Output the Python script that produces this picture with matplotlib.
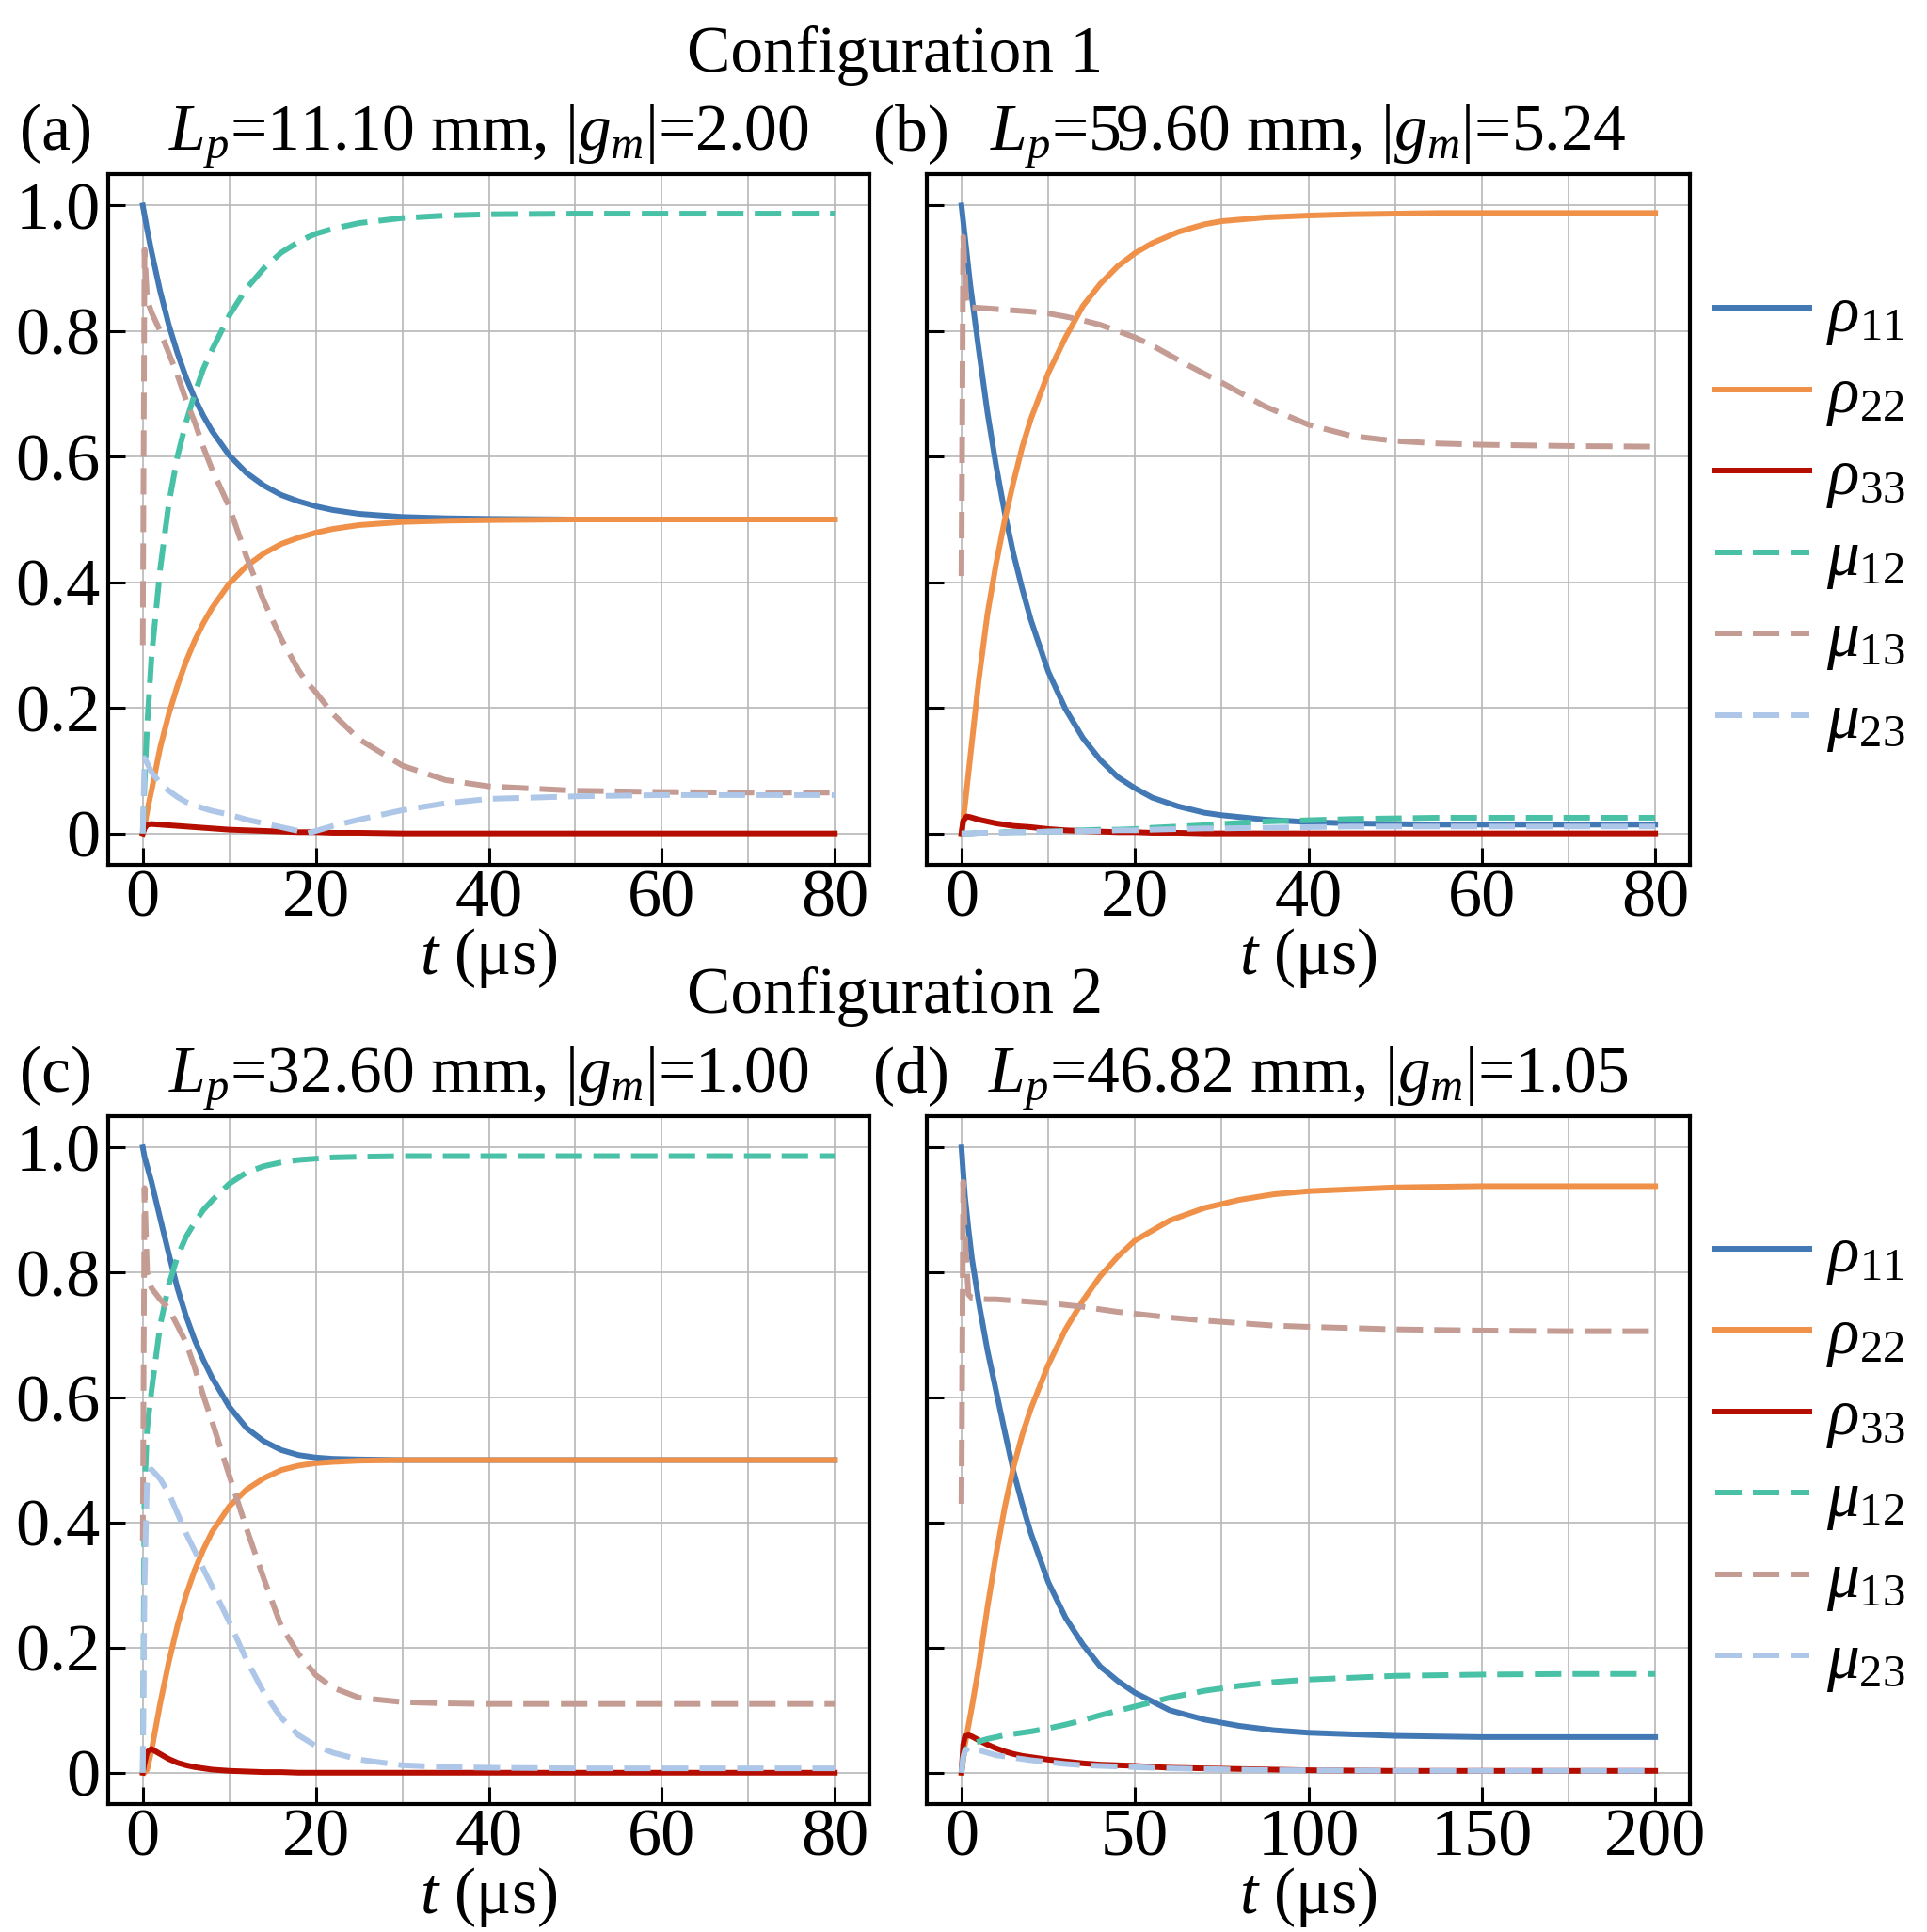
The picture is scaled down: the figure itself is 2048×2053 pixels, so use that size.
import numpy as np
import matplotlib
matplotlib.use("Agg")
import matplotlib.pyplot as plt
from matplotlib.ticker import MultipleLocator, FuncFormatter

plt.rcParams['font.family'] = ['Liberation Serif', 'DejaVu Serif']
plt.rcParams['mathtext.fontset'] = 'custom'
plt.rcParams['mathtext.rm'] = 'Liberation Serif'
plt.rcParams['mathtext.it'] = 'Liberation Serif:italic'
plt.rcParams['mathtext.bf'] = 'Liberation Serif:bold'

# -----------------------
# data
# -----------------------
# panel (a): Lp=11.10 mm
t_a = [0, 0.2, 0.5, 1, 2, 3, 4, 5, 6, 7, 8, 10, 12, 14, 16, 18, 19, 20, 22, 25, 30, 35, 40, 50, 60, 70, 80]
rho11_a = [1.0, 0.985, 0.962, 0.927, 0.864, 0.81, 0.765, 0.726, 0.693, 0.665, 0.641, 0.602, 0.574, 0.554,
           0.539, 0.529, 0.525, 0.521, 0.515, 0.509, 0.504, 0.502, 0.501, 0.5, 0.5, 0.5, 0.5]
rho22_a = [0, 0.01, 0.035, 0.068, 0.136, 0.19, 0.235, 0.274, 0.307, 0.335, 0.359, 0.398, 0.426, 0.446,
           0.461, 0.471, 0.475, 0.479, 0.485, 0.491, 0.496, 0.498, 0.499, 0.5, 0.5, 0.5, 0.5]
rho33_a = [0, 0.008, 0.014, 0.015, 0.014, 0.013, 0.012, 0.011, 0.01, 0.009, 0.008, 0.006, 0.005, 0.004,
           0.003, 0.002, 0.002, 0.002, 0.001, 0.001, 0, 0, 0, 0, 0, 0, 0]
mu12_a = [0, 0.08, 0.17, 0.28, 0.42, 0.525, 0.6, 0.655, 0.7, 0.74, 0.77, 0.825, 0.868, 0.9,
          0.925, 0.942, 0.949, 0.955, 0.963, 0.972, 0.98, 0.984, 0.986, 0.987, 0.987, 0.987, 0.987]
mu13_a = [0.30, 0.93, 0.85, 0.83, 0.80, 0.765, 0.73, 0.69, 0.655, 0.615, 0.58, 0.52, 0.44, 0.37,
          0.31, 0.26, 0.24, 0.225, 0.19, 0.15, 0.108, 0.085, 0.075, 0.068, 0.066, 0.065, 0.065]
mu23_a = [0, 0.12, 0.112, 0.098, 0.08, 0.068, 0.058, 0.05, 0.045, 0.04, 0.036, 0.03, 0.022, 0.016,
          0.01, 0.004, 0.0, 0.004, 0.012, 0.022, 0.037, 0.048, 0.055, 0.059, 0.061, 0.061, 0.061]

# panel (b): Lp=59.60 mm
t_b = [0, 0.2, 0.6, 1, 2, 3, 4, 5, 6, 7, 8, 10, 12, 14, 16, 18, 20, 22, 25, 28, 30, 35, 40, 45, 50, 55, 60, 70, 80]
rho11_b = [1.0, 0.975, 0.925, 0.875, 0.77, 0.67, 0.585, 0.51, 0.445, 0.39, 0.34, 0.258, 0.198, 0.152, 0.117,
           0.09, 0.072, 0.057, 0.043, 0.033, 0.029, 0.022, 0.018, 0.016, 0.015, 0.014, 0.014, 0.014, 0.014]
rho22_b = [0, 0.02, 0.07, 0.12, 0.245, 0.35, 0.43, 0.5, 0.56, 0.615, 0.66, 0.733, 0.79, 0.84, 0.875,
           0.903, 0.924, 0.94, 0.958, 0.97, 0.975, 0.981, 0.984, 0.986, 0.987, 0.988, 0.988, 0.988, 0.988]
rho33_b = [0, 0.02, 0.027, 0.026, 0.022, 0.019, 0.016, 0.014, 0.012, 0.011, 0.01, 0.007, 0.005, 0.004, 0.003,
           0.002, 0.002, 0.001, 0.001, 0, 0, 0, 0, 0, 0, 0, 0, 0, 0]
mu12_b = [0, 0, 0, 0, 0.001, 0.001, 0.001, 0.002, 0.002, 0.002, 0.002, 0.003, 0.004, 0.005, 0.006,
          0.006, 0.007, 0.009, 0.011, 0.013, 0.015, 0.019, 0.021, 0.023, 0.024, 0.025, 0.025, 0.025, 0.025]
mu13_b = [0.41, 0.95, 0.84, 0.838, 0.837, 0.836, 0.835, 0.834, 0.833, 0.832, 0.831, 0.828, 0.823, 0.817, 0.81,
          0.80, 0.79, 0.777, 0.754, 0.732, 0.718, 0.68, 0.651, 0.633, 0.625, 0.621, 0.619, 0.617, 0.616]
mu23_b = [0, 0, 0, 0, 0.001, 0.001, 0.001, 0.001, 0.002, 0.002, 0.002, 0.003, 0.003, 0.004, 0.004,
          0.005, 0.005, 0.006, 0.007, 0.008, 0.008, 0.009, 0.01, 0.011, 0.011, 0.011, 0.011, 0.011, 0.011]

# panel (c): Lp=32.60 mm
t_c = [0, 0.2, 0.5, 1, 2, 3, 4, 5, 6, 7, 8, 10, 12, 14, 16, 18, 20, 22, 25, 30, 35, 40, 50, 60, 70, 80]
rho11_c = [1.0, 0.985, 0.97, 0.945, 0.887, 0.83, 0.775, 0.73, 0.692, 0.66, 0.632, 0.585, 0.551, 0.53,
           0.516, 0.508, 0.504, 0.502, 0.501, 0.5, 0.5, 0.5, 0.5, 0.5, 0.5, 0.5]
rho22_c = [0, 0, 0.005, 0.035, 0.11, 0.177, 0.235, 0.284, 0.324, 0.357, 0.385, 0.426, 0.453, 0.471,
           0.484, 0.491, 0.495, 0.497, 0.499, 0.5, 0.5, 0.5, 0.5, 0.5, 0.5, 0.5]
rho33_c = [0, 0.015, 0.033, 0.038, 0.03, 0.022, 0.016, 0.012, 0.009, 0.007, 0.005, 0.003, 0.002, 0.001,
           0.001, 0, 0, 0, 0, 0, 0, 0, 0, 0, 0, 0]
mu12_c = [0, 0.45, 0.55, 0.61, 0.715, 0.78, 0.825, 0.857, 0.88, 0.9, 0.915, 0.942, 0.96, 0.97,
          0.976, 0.98, 0.982, 0.984, 0.985, 0.986, 0.986, 0.986, 0.986, 0.986, 0.986, 0.986]
mu13_c = [0.37, 0.935, 0.80, 0.775, 0.757, 0.742, 0.715, 0.688, 0.648, 0.603, 0.562, 0.475, 0.39, 0.31,
          0.234, 0.19, 0.156, 0.136, 0.12, 0.113, 0.111, 0.11, 0.11, 0.11, 0.11, 0.11]
mu23_c = [0, 0.3, 0.47, 0.485, 0.47, 0.447, 0.415, 0.383, 0.355, 0.326, 0.298, 0.241, 0.18, 0.128,
          0.088, 0.06, 0.043, 0.032, 0.021, 0.012, 0.009, 0.008, 0.007, 0.007, 0.007, 0.007]

# panel (d): Lp=46.82 mm
t_d = [0, 0.5, 1, 2, 3, 5, 7.5, 10, 12.5, 15, 17.5, 20, 25, 30, 35, 40, 45, 50, 60, 70, 80, 90, 100,
       125, 150, 175, 200]
rho11_d = [1.0, 0.96, 0.922, 0.87, 0.823, 0.752, 0.675, 0.61, 0.545, 0.482, 0.43, 0.383, 0.305, 0.248,
           0.205, 0.17, 0.147, 0.128, 0.1, 0.085, 0.075, 0.068, 0.064, 0.059, 0.057, 0.057, 0.057]
rho22_d = [0, 0.02, 0.045, 0.075, 0.105, 0.17, 0.265, 0.35, 0.425, 0.489, 0.54, 0.582, 0.652, 0.709,
           0.755, 0.794, 0.825, 0.851, 0.883, 0.903, 0.916, 0.925, 0.93, 0.936, 0.938, 0.938, 0.938]
rho33_d = [0, 0.045, 0.058, 0.06, 0.058, 0.052, 0.045, 0.039, 0.034, 0.03, 0.027, 0.025, 0.021, 0.018,
           0.015, 0.013, 0.012, 0.011, 0.008, 0.007, 0.006, 0.005, 0.004, 0.003, 0.003, 0.003, 0.003]
mu12_d = [0, 0.025, 0.035, 0.043, 0.047, 0.05, 0.054, 0.057, 0.06, 0.062, 0.064, 0.066, 0.071, 0.077,
          0.084, 0.092, 0.099, 0.106, 0.12, 0.131, 0.139, 0.145, 0.149, 0.155, 0.157, 0.158, 0.158]
mu13_d = [0.43, 0.945, 0.86, 0.765, 0.759, 0.758, 0.757, 0.757, 0.756, 0.755, 0.754, 0.753, 0.751, 0.748,
          0.745, 0.741, 0.737, 0.734, 0.728, 0.723, 0.719, 0.715, 0.713, 0.709, 0.707, 0.706, 0.706]
mu23_d = [0, 0.025, 0.035, 0.039, 0.038, 0.036, 0.032, 0.028, 0.026, 0.024, 0.022, 0.02, 0.017, 0.014,
          0.012, 0.011, 0.01, 0.009, 0.007, 0.006, 0.005, 0.004, 0.004, 0.003, 0.003, 0.003, 0.003]

series_labels = [r'$\rho_{11}$', r'$\rho_{22}$', r'$\rho_{33}$', r'$\mu_{12}$', r'$\mu_{13}$', r'$\mu_{23}$']
series_colors = ['#4279B5', '#F0914A', '#B50D00', '#48C1A6', '#C49C94', '#AEC7E8']
series_dashed = [False, False, False, True, True, True]

panel_tags = ['(a)', '(b)', '(c)', '(d)']
panel_titles = [r'$L_p$=11.10 mm, $|g_m|$=2.00', r'$L_p$=59.60 mm, $|g_m|$=5.24',
                r'$L_p$=32.60 mm, $|g_m|$=1.00', r'$L_p$=46.82 mm, $|g_m|$=1.05']
config_titles = ['Configuration 1', 'Configuration 2']

panels = [
    (t_a, [rho11_a, rho22_a, rho33_a, mu12_a, mu13_a, mu23_a], 80),
    (t_b, [rho11_b, rho22_b, rho33_b, mu12_b, mu13_b, mu23_b], 80),
    (t_c, [rho11_c, rho22_c, rho33_c, mu12_c, mu13_c, mu23_c], 80),
    (t_d, [rho11_d, rho22_d, rho33_d, mu12_d, mu13_d, mu23_d], 200),
]

# -----------------------
# figure
# -----------------------
W, H = 2048, 2053
fig = plt.figure(figsize=(W / 100, H / 100), dpi=100)

FS_TICK = 52
FS_TITLE = 50
FS_LEG = 50
LW = 4.3  # pt, ~6 px

def px_box(x0, y0, x1, y1):
    return [x0 / W, 1 - y1 / H, (x1 - x0) / W, (y1 - y0) / H]

boxes = [px_box(115, 185, 924, 919), px_box(985, 185, 1796, 919),
         px_box(115, 1186, 924, 1917), px_box(985, 1186, 1796, 1917)]
tag_x = [59, 968, 59, 968]

for k, (t, vals, tmax) in enumerate(panels):
    ax = fig.add_axes(boxes[k])
    for v, lab, col, dsh in zip(vals, series_labels, series_colors, series_dashed):
        if dsh:
            ax.plot(t, v, color=col, lw=LW, ls=(0, (4.7, 2.0)), label=lab)
        else:
            ax.plot(t, v, color=col, lw=LW, label=lab)

    pad = 0.05 * tmax
    ax.set_xlim(-pad, tmax + pad)
    ax.set_ylim(-0.05, 1.05)
    major = 50 if tmax == 200 else 20
    ax.xaxis.set_major_locator(MultipleLocator(major))
    ax.xaxis.set_minor_locator(MultipleLocator(major / 2))
    ax.yaxis.set_major_locator(MultipleLocator(0.2))
    ax.xaxis.set_major_formatter(FuncFormatter(lambda x, p: '%d' % round(x)))
    ax.yaxis.set_major_formatter(FuncFormatter(lambda y, p: '0' if abs(y) < 1e-9 else '%.1f' % y))

    ax.set_axisbelow(True)
    ax.grid(True, which='both', axis='x', color='#b8b8b8', lw=1.2)
    ax.grid(True, which='major', axis='y', color='#b8b8b8', lw=1.2)
    ax.tick_params(which='major', direction='in', length=13, width=2.2, labelsize=FS_TICK,
                   top=False, right=False, pad=3)
    ax.tick_params(which='minor', length=0)
    ax.tick_params(axis='y', pad=6)
    for s in ax.spines.values():
        s.set_linewidth(3)

    ax.set_xlabel(r'$t$ (μs)', fontsize=FS_TITLE, labelpad=-3)
    if k % 2 == 1:
        ax.tick_params(axis='y', labelleft=False)
        ax.legend(loc='center left', bbox_to_anchor=(1.033, 0.50), frameon=False, fontsize=FS_LEG,
                  handlelength=1.45, handletextpad=0.25, labelspacing=0.3,
                  borderaxespad=0, borderpad=0)

    row_top = 185 if k < 2 else 1186
    fig.text(tag_x[k] / W, 1 - (row_top - 26) / H, panel_tags[k], fontsize=FS_TITLE,
             ha='center', va='baseline')
    cx = boxes[k][0] + boxes[k][2] / 2
    fig.text(cx, 1 - (row_top - 26) / H, panel_titles[k], fontsize=FS_TITLE,
             ha='center', va='baseline')

fig.text(951 / W, 1 - 76 / H, config_titles[0], fontsize=FS_TITLE, ha='center', va='baseline')
fig.text(951 / W, 1 - 1076 / H, config_titles[1], fontsize=FS_TITLE, ha='center', va='baseline')

fig.savefig('out.png', dpi=100)
